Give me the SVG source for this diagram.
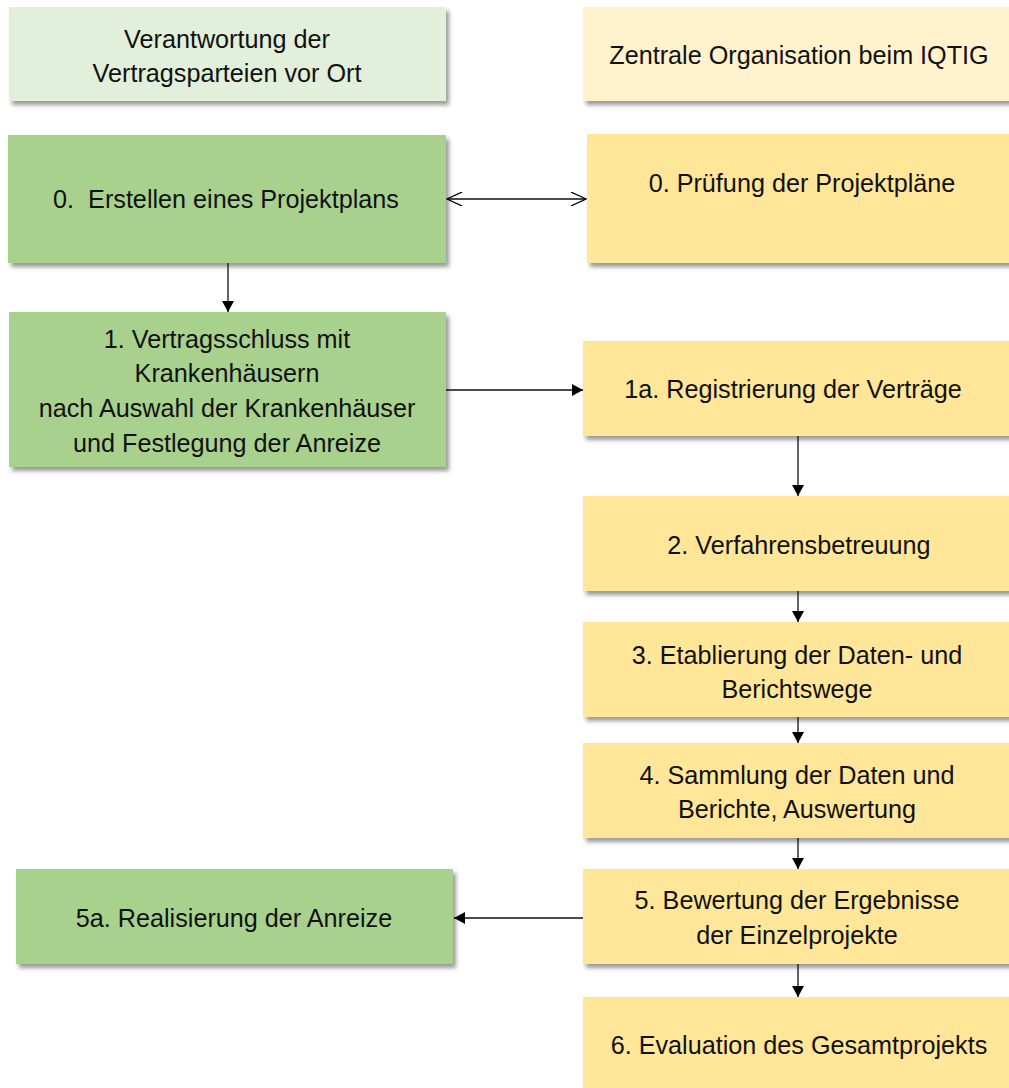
<svg xmlns="http://www.w3.org/2000/svg" width="1009" height="1088" viewBox="0 0 1009 1088">
<style>
text{font-family:"Liberation Sans",Arial,sans-serif;font-size:25.2px;fill:#111;text-anchor:middle}
.g{fill:#A9D18E}.y{fill:#FFE699}.lg{fill:#E2EFDA}.ly{fill:#FFF2CC}
.c{stroke:#111;stroke-width:1.3;fill:none}
</style>
<defs>
<filter id="sh" x="-5%" y="-10%" width="115%" height="130%">
<feDropShadow dx="3" dy="4" stdDeviation="2" flood-color="#555" flood-opacity="0.6"/>
</filter>
<marker id="a" markerWidth="12" markerHeight="12" refX="11" refY="6" orient="auto" markerUnits="userSpaceOnUse">
<path d="M0,0 L11,6 L0,12 Z" fill="#000"/>
</marker>
<marker id="o" markerWidth="16" markerHeight="14" refX="15" refY="7" orient="auto-start-reverse" markerUnits="userSpaceOnUse">
<path d="M0,0 L15,7 L0,14" fill="none" stroke="#000" stroke-width="1.2"/>
</marker>
</defs>
<g id="hdr-left"><rect class="lg" x="9" y="7" width="437" height="94" filter="url(#sh)"/><text x="227" y="48">Verantwortung der</text><text x="227" y="82">Vertragsparteien vor Ort</text></g>
<g id="hdr-right"><rect class="ly" x="583" y="7" width="432" height="94" filter="url(#sh)"/><text x="799" y="64">Zentrale Organisation beim IQTIG</text></g>
<g id="n0l"><rect class="g" x="8" y="135" width="438" height="128" filter="url(#sh)"/><text x="226" y="208" xml:space="preserve">0.  Erstellen eines Projektplans</text></g>
<g id="n0r"><rect class="y" x="587" y="134" width="428" height="129" filter="url(#sh)"/><text x="802" y="192">0. Prüfung der Projektpläne</text></g>
<g id="n1"><rect class="g" x="9" y="312" width="437" height="155" filter="url(#sh)"/><text x="227" y="348">1. Vertragsschluss mit</text><text x="227" y="382">Krankenhäusern</text><text x="227" y="417">nach Auswahl der Krankenhäuser</text><text x="227" y="452">und Festlegung der Anreize</text></g>
<g id="n1a"><rect class="y" x="583" y="341" width="432" height="95" filter="url(#sh)"/><text x="793" y="398">1a. Registrierung der Verträge</text></g>
<g id="n2"><rect class="y" x="583" y="496" width="432" height="95" filter="url(#sh)"/><text x="799" y="554">2. Verfahrensbetreuung</text></g>
<g id="n3"><rect class="y" x="583" y="622" width="432" height="95" filter="url(#sh)"/><text x="797" y="664">3. Etablierung der Daten- und</text><text x="797" y="698">Berichtswege</text></g>
<g id="n4"><rect class="y" x="583" y="743" width="432" height="95" filter="url(#sh)"/><text x="797" y="784">4. Sammlung der Daten und</text><text x="797" y="818">Berichte, Auswertung</text></g>
<g id="n5"><rect class="y" x="583" y="869" width="432" height="95" filter="url(#sh)"/><text x="797" y="909">5. Bewertung der Ergebnisse</text><text x="797" y="944">der Einzelprojekte</text></g>
<g id="n5a"><rect class="g" x="16" y="869" width="437" height="95" filter="url(#sh)"/><text x="234" y="927">5a. Realisierung der Anreize</text></g>
<g id="n6"><rect class="y" x="583" y="997" width="432" height="95" filter="url(#sh)"/><text x="799" y="1054">6. Evaluation des Gesamtprojekts</text></g>
<g id="connectors">
<line class="c" x1="447" y1="199" x2="586" y2="199" marker-start="url(#o)" marker-end="url(#o)"/>
<line class="c" x1="228" y1="263" x2="228" y2="312" marker-end="url(#a)"/>
<line class="c" x1="446" y1="390" x2="583" y2="390" marker-end="url(#a)"/>
<line class="c" x1="798" y1="436" x2="798" y2="496" marker-end="url(#a)"/>
<line class="c" x1="798" y1="591" x2="798" y2="622" marker-end="url(#a)"/>
<line class="c" x1="798" y1="717" x2="798" y2="743" marker-end="url(#a)"/>
<line class="c" x1="798" y1="838" x2="798" y2="869" marker-end="url(#a)"/>
<line class="c" x1="583" y1="918" x2="454" y2="918" marker-end="url(#a)"/>
<line class="c" x1="798" y1="964" x2="798" y2="997" marker-end="url(#a)"/>
</g>
</svg>
